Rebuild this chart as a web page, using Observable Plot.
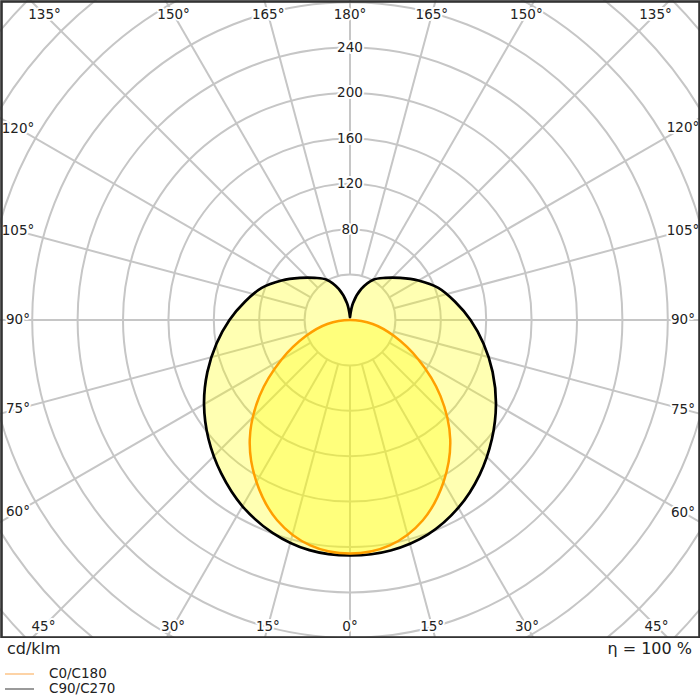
<!DOCTYPE html>
<html>
<head>
<meta charset="utf-8">
<script src="https://cdn.jsdelivr.net/npm/d3@7"></script>
<script src="https://cdn.jsdelivr.net/npm/@observablehq/plot@0.6"></script>
<style>
  html, body { margin: 0; padding: 0; background: #fff; }
  #wrap { position: relative; width: 700px; height: 700px; font-family: "DejaVu Sans", sans-serif; color: #222; }
  #chart { position: absolute; left: 0; top: 0; }
  .foot { position: absolute; font-size: 16px; line-height: 17px; }
  .leg { position: absolute; left: 5px; font-size: 13.5px; line-height: 15px; display: flex; align-items: center; }
  .sw { display: inline-block; width: 29px; height: 2px; margin-right: 15px; }
</style>
</head>
<body>
<div id="wrap">
  <div id="chart"></div>
  <div class="foot" style="left:7px; top:640px;">cd/klm</div>
  <div class="foot" style="right:8px; top:640px;">η = 100 %</div>
  <div class="leg" style="top:666px;"><span class="sw" style="background:#fdd3a6"></span>C0/C180</div>
  <div class="leg" style="top:681px;"><span class="sw" style="background:#9a9a9a"></span>C90/C270</div>
</div>
<script>
// ---- data (cd/klm) ----
const blackAngles = [0, 10, 20, 30, 40, 50, 60, 70, 80, 90, 100, 110, 120, 130, 140, 150, 160, 170, 180];
const c270 = [207.5, 205.9, 199.5, 189.5, 176.5, 162.8, 148.5, 133.7, 119.4, 106.2, 93.8, 82.8, 69.6, 57.7, 48.5, 41, 29.1, 15, 2.6];
const c90  = [207.5, 206.2, 201.0, 191.0, 177.8, 163.2, 148.5, 133.7, 119.4, 106.2, 93.8, 82.8, 69.6, 57.7, 48.5, 41, 29.1, 15, 2.6];
const orangeAngles = [0, 10, 20, 30, 40, 50, 60, 70, 80, 90];
const c0   = [205.7, 201.6, 187.7, 164.8, 137.4, 104, 69.6, 41.4, 20.3, 0];
const c180 = [205.7, 201.6, 187.7, 164.8, 137.4, 104, 69.6, 41.4, 20.3, 0];
const ringValues = [40, 80, 120, 160, 200, 240, 280, 320, 360, 400, 440, 480];
const ringLabels = [80, 120, 160, 200, 240];
const rayAngles = [0, 15, 30, 45, 60, 75, 90, 105, 120, 135, 150, 165, 180];

// ---- layout ----
const W = 700, H = 638;
const cx = 349.5, cy = 319.5, k = 1.135; // centre (px) and px per cd/klm
const labelBox = {left: 17.5, right: 682.5, top: 14, bottom: 626};

const rad = d => d * Math.PI / 180;
const pt = (theta, I, side) => ({x: side * I * Math.sin(rad(theta)), y: I * Math.cos(rad(theta))});

// black curve (C90/C270): open path from the 180° notch round to the 180° notch
const blackPts = [];
for (let i = blackAngles.length - 1; i >= 0; i--) blackPts.push(pt(blackAngles[i], c270[i], -1));
for (let i = 1; i < blackAngles.length; i++) blackPts.push(pt(blackAngles[i], c90[i], 1));

// orange curve (C0/C180): closed path through the origin
const orangePts = [];
for (let i = orangeAngles.length - 2; i >= 0; i--) orangePts.push(pt(orangeAngles[i], c180[i], -1));
for (let i = 1; i < orangeAngles.length; i++) orangePts.push(pt(orangeAngles[i], c0[i], 1));

// rays
const rays = [];
for (const a of rayAngles) {
  const sides = (a === 0 || a === 180) ? [1] : [-1, 1];
  for (const s of sides) {
    const p1 = pt(a, 40, s), p2 = pt(a, 700, s);
    rays.push({x1: p1.x, y1: p1.y, x2: p2.x, y2: p2.y});
  }
}

// angle labels on an inset box
const angleLabels = [];
for (const a of rayAngles) {
  const sides = (a === 0 || a === 180) ? [1] : [-1, 1];
  for (const s of sides) {
    const dx = s * Math.sin(rad(a)), dy = Math.cos(rad(a));
    let t = Infinity;
    if (dx > 1e-9) t = Math.min(t, (labelBox.right - cx) / dx);
    if (dx < -1e-9) t = Math.min(t, (labelBox.left - cx) / dx);
    if (dy > 1e-9) t = Math.min(t, (labelBox.bottom - cy) / dy);
    if (dy < -1e-9) t = Math.min(t, (labelBox.top - cy) / dy);
    angleLabels.push({x: t * dx / k, y: t * dy / k, text: a + "°"});
  }
}

const gridColor = "#c6c6c6";
const chart = Plot.plot({
  width: W, height: H,
  marginTop: 0, marginRight: 0, marginBottom: 0, marginLeft: 0,
  style: {background: "white", fontFamily: "DejaVu Sans, sans-serif"},
  x: {domain: [-cx / k, (W - cx) / k], range: [0, W], axis: null},
  y: {domain: [-cy / k, (H - cy) / k], range: [0, H], axis: null},
  r: {type: "linear", domain: [0, 100], range: [0, 100 * k]},
  marks: [
    Plot.dot(ringValues, {x: d => 0, y: d => 0, r: d => d, fill: "none", stroke: gridColor, strokeWidth: 2, clip: true}),
    Plot.link(rays, {x1: "x1", y1: "y1", x2: "x2", y2: "y2", stroke: gridColor, strokeWidth: 2, clip: true}),
    Plot.line(blackPts, {x: "x", y: "y", curve: "catmull-rom", fill: "#ffff00", fillOpacity: 0.3, stroke: "#000", strokeWidth: 2.7}),
    Plot.line(orangePts, {x: "x", y: "y", curve: "catmull-rom-closed", fill: "#ffff00", fillOpacity: 0.3, stroke: "#ff9f00", strokeWidth: 2.5}),
    Plot.text(ringLabels, {x: d => 0, y: d => -d, text: d => String(d), fontSize: 13.5, fill: "#222", stroke: "white", strokeWidth: 4}),
    Plot.text(angleLabels, {x: "x", y: "y", text: "text", fontSize: 13.5, fill: "#222", stroke: "white", strokeWidth: 4}),
    Plot.frame({stroke: "#333", strokeWidth: 2.6, inset: 1})
  ]
});
document.getElementById("chart").appendChild(chart);
</script>
</body>
</html>
